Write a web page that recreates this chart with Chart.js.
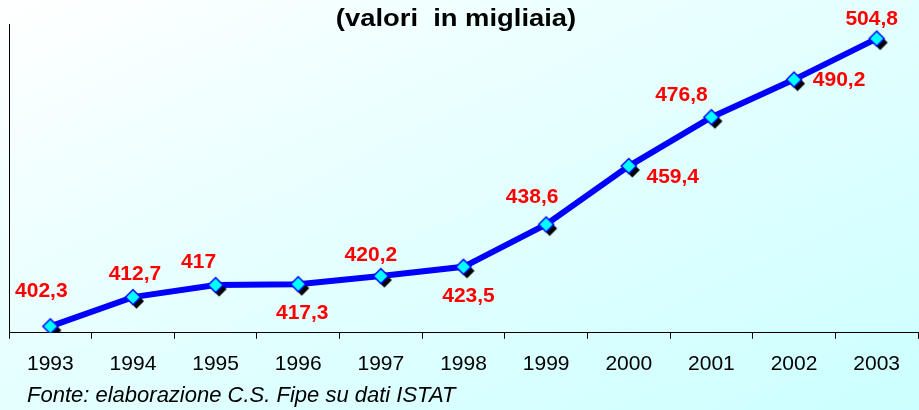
<!DOCTYPE html>
<html>
<head>
<meta charset="utf-8">
<script src="https://cdn.jsdelivr.net/npm/chart.js@4/dist/chart.umd.min.js"></script>
<style>
    html, body { margin: 0; padding: 0; }
    body {
        width: 919px;
        height: 410px;
        overflow: hidden;
        background: linear-gradient(155deg, #ffffff 0%, #e6ffff 45%, #ccffff 100%);
    }
    canvas { display: block; }
</style>
</head>
<body>
<canvas id="graficoChart" width="919" height="410"></canvas>
<script>
const anni = ['1993', '1994', '1995', '1996', '1997', '1998', '1999', '2000', '2001', '2002', '2003'];
const valori = [402.3, 412.7, 417, 417.3, 420.2, 423.5, 438.6, 459.4, 476.8, 490.2, 504.8];
const titolo = '(valori  in migliaia)';
const fonte = 'Fonte: elaborazione C.S. Fipe su dati ISTAT';

// dove stanno le etichette rispetto al punto
const spostX = [-9, 2, -17, 4, -10, 5, -14, 44, -30, 45, -5];
const spostY = [-35, -23, -23, 29, -21, 29, -27, 11, -22, 1, -19];

const FONT = '"Liberation Sans", Arial, sans-serif';

// rombo azzurro con ombra nera
function creaRombo() {
    const c = document.createElement('canvas');
    c.width = 28;
    c.height = 28;
    const g = c.getContext('2d');
    const rombo = (cx, cy, r) => {
        g.beginPath();
        g.moveTo(cx, cy - r);
        g.lineTo(cx + r, cy);
        g.lineTo(cx, cy + r);
        g.lineTo(cx - r, cy);
        g.closePath();
    };
    rombo(17.5, 18, 7.5);
    g.fillStyle = '#000000';
    g.fill();
    rombo(14, 14, 7.5);
    g.fillStyle = '#00ffff';
    g.fill();
    g.strokeStyle = '#0000ff';
    g.lineWidth = 1.5;
    g.stroke();
    return c;
}

const etichette = {
    id: 'etichette',
    afterDatasetsDraw(chart) {
        const ctx = chart.ctx;
        const punti = chart.getDatasetMeta(0).data;
        ctx.save();
        ctx.font = 'bold 21px ' + FONT;
        ctx.fillStyle = '#ff0000';
        ctx.textAlign = 'center';
        ctx.textBaseline = 'middle';
        punti.forEach((p, i) => {
            ctx.fillText(String(valori[i]).replace('.', ','), p.x + spostX[i], p.y + spostY[i]);
        });
        ctx.restore();
    }
};

const testi = {
    id: 'testi',
    afterDraw(chart) {
        const ctx = chart.ctx;
        ctx.save();
        ctx.fillStyle = '#000000';
        ctx.textBaseline = 'middle';
        ctx.textAlign = 'center';
        ctx.font = 'bold 23px ' + FONT;
        // il titolo originale è più largo
        ctx.translate(456, 20);
        ctx.scale(1.19, 1);
        ctx.fillText(titolo, 0, 0);
        ctx.setTransform(1, 0, 0, 1, 0, 0);
        ctx.textAlign = 'left';
        ctx.font = 'italic 22px ' + FONT;
        ctx.fillText(fonte, 27, 396);
        ctx.restore();
    }
};

const grafico = document.getElementById('graficoChart');

new Chart(grafico, {
    type: 'line',
    data: {
        labels: anni,
        datasets: [{
            data: valori,
            borderColor: '#0000ff',
            borderWidth: 6,
            tension: 0,
            fill: false,
            pointStyle: creaRombo(),
            pointRadius: 7,
            pointHoverRadius: 7,
        }]
    },
    options: {
        responsive: false,
        animation: false,
        layout: {
            autoPadding: false,
            padding: { top: 24, left: 9, right: 1, bottom: 20 }
        },
        plugins: {
            legend: { display: false },
            tooltip: { enabled: false },
        },
        scales: {
            y: {
                min: 400,
                max: 510,
                ticks: { display: false },
                grid: {
                    drawOnChartArea: false,
                    drawTicks: false,
                },
                border: { color: '#000000', width: 1 },
            },
            x: {
                offset: true,
                ticks: {
                    color: '#000000',
                    font: { family: FONT, size: 21 },
                    padding: 13,
                    maxRotation: 0,
                    autoSkip: false,
                },
                grid: {
                    offset: true,
                    drawOnChartArea: false,
                    tickLength: 6,
                    color: '#000000',
                },
                border: { color: '#000000', width: 1 },
            }
        }
    },
    plugins: [etichette, testi]
});
</script>
</body>
</html>
